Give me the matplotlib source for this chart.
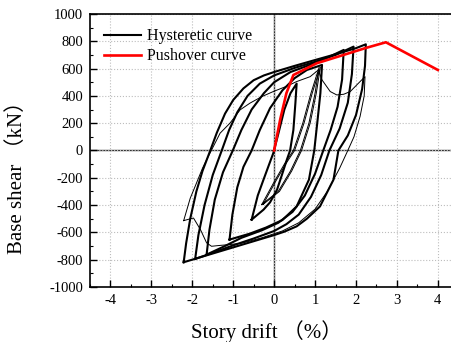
import matplotlib
matplotlib.use("Agg")
import matplotlib.pyplot as plt
from matplotlib.ticker import MultipleLocator

plt.rcParams["font.family"] = ["Liberation Serif", "Noto Sans CJK SC"]
plt.rcParams["axes.unicode_minus"] = False

# hysteresis loops (story drift %, base shear kN), thick lines
loop1_drift = [-0.55, -0.4, -0.26, -0.12, -0.02, 0.1, 0.25, 0.4, 0.55,
               0.52, 0.47, 0.39, 0.31, 0.2, 0.07, -0.1, -0.26, -0.55]
loop1_shear = [-507, -330, -214, -100, -19, 120, 300, 420, 490,
               350, 150, 0, -68, -170, -288, -380, -434, -507]

loop2_drift = [-1.09, -1.02, -0.9, -0.75, -0.55, -0.35, -0.1, 0.2, 0.5, 0.8, 1.17,
               1.13, 1.06, 0.98, 0.85, 0.55, 0.2, -0.2, -0.6, -1.09]
loop2_shear = [-653, -470, -270, -120, 0, 150, 310, 440, 530, 590, 627,
               420, 220, 0, -214, -410, -510, -565, -610, -653]

loop3_drift = [-1.65, -1.58, -1.45, -1.25, -1.01, -0.8, -0.55, -0.25, 0, 0.4, 0.9, 1.3, 1.7,
               1.66, 1.55, 1.38, 1.2, 1.0, 0.75, 0.45, 0.1, -0.3, -0.8, -1.2, -1.65]
loop3_shear = [-763, -580, -360, -160, 0, 150, 300, 420, 500, 575, 630, 680, 737,
               520, 320, 150, 0, -170, -330, -450, -530, -585, -640, -700, -763]

loop4_drift = [-1.93, -1.85, -1.7, -1.5, -1.28, -1.1, -0.9, -0.65, -0.35, 0, 0.5, 1.0, 1.5, 1.94,
               1.9, 1.8, 1.6, 1.35, 1.15, 0.9, 0.6, 0.3, 0, -0.5, -1.0, -1.5, -1.93]
loop4_shear = [-795, -620, -400, -180, 0, 150, 280, 400, 490, 550, 605, 650, 700, 761,
               560, 350, 160, 0, -180, -340, -470, -540, -590, -645, -695, -750, -795]

loop5_drift = [-2.21, -2.15, -2.05, -1.9, -1.75, -1.56, -1.4, -1.2, -1.0, -0.75, -0.5, -0.25,
               0, 0.5, 1.0, 1.5, 2.0, 2.24,
               2.22, 2.15, 2.0, 1.8, 1.57, 1.45, 1.12, 0.8, 0.55, 0.25, 0,
               -0.5, -1.0, -1.5, -2.0, -2.21]
loop5_shear = [-819, -680, -500, -300, -150, 0, 130, 270, 370, 455, 515, 550,
               575, 620, 663, 705, 750, 778,
               620, 450, 260, 110, 0, -214, -410, -500, -556, -595, -620,
               -665, -710, -755, -800, -819]

# thin lines: small narrow loop and the degraded last cycle
thin_loop_drift = [-0.3, 0, 0.25, 0.47, 0.7, 0.9, 1.1, 1.0, 0.85, 0.64, 0.4, 0.1, -0.3]
thin_loop_shear = [-395, -230, -100, 0, 200, 420, 610, 420, 200, 0, -150, -300, -395]

degraded_drift = [-2.21, -2.05, -1.93, -1.75, -1.61, -1.45, -1.32, -1.08, -0.83, -0.59, -0.3,
                  -0.02, 0.3, 0.55, 0.88, 1.08, 1.17, 1.37, 1.53, 1.7, 1.86, 2.05, 2.22,
                  2.2, 2.1, 1.95, 1.8, 1.6, 1.3, 1.0, 0.6, 0.2, -0.3, -0.8, -1.1, -1.3,
                  -1.53, -1.65, -1.8, -1.97, -2.1, -2.21]
degraded_shear = [-514, -350, -263, -130, -44, 50, 127, 200, 298, 347, 395,
                  432, 470, 505, 541, 590, 517, 432, 407, 412, 432, 490, 541,
                  400, 250, 100, 0, -130, -300, -430, -530, -590, -640, -680, -690, -695,
                  -702, -677, -580, -495, -505, -514]

# pushover curve
push_drift = [0, 0.15, 0.3, 0.47, 1.04, 2.26, 2.73, 4.0]
push_shear = [0, 230, 420, 553, 639, 753, 793, 590]

x_ticks = [-4, -3, -2, -1, 0, 1, 2, 3, 4]
y_ticks = [-1000, -800, -600, -400, -200, 0, 200, 400, 600, 800, 1000]


fig = plt.figure(figsize=(4.52, 3.42), dpi=100)
ax = fig.add_axes([0.199, 0.161, 0.815, 0.798])

ax.grid(True, which="major", linestyle=":", color="#bdbdbd", linewidth=0.8)
ax.axhline(0, color="#333333", linewidth=1.0, zorder=1)
ax.axvline(0, color="#333333", linewidth=1.0, zorder=1)

ax.plot(thin_loop_drift, thin_loop_shear, color="black", linewidth=0.7)
ax.plot([d + 0.03 for d in thin_loop_drift], thin_loop_shear, color="black", linewidth=0.7)
ax.plot(degraded_drift, degraded_shear, color="black", linewidth=0.7)

loops = [(loop1_drift, loop1_shear), (loop2_drift, loop2_shear), (loop3_drift, loop3_shear),
         (loop4_drift, loop4_shear), (loop5_drift, loop5_shear)]
for i, (d, s) in enumerate(loops):
    ax.plot(d, s, color="black", linewidth=1.5,
            label="Hysteretic curve" if i == 0 else None)

ax.plot(push_drift, push_shear, color="#ff0000", linewidth=1.9, label="Pushover curve")

ax.set_xlim(-4.5, 4.5)
ax.set_ylim(-1000, 1000)
ax.set_xticks(x_ticks)
ax.set_yticks(y_ticks)
ax.xaxis.set_minor_locator(MultipleLocator(0.5))
ax.yaxis.set_minor_locator(MultipleLocator(100))
ax.tick_params(which="major", direction="in", length=5, width=1, labelsize=10.5, pad=5)
ax.tick_params(which="minor", direction="in", length=2.5, width=0.8)
ax.tick_params(axis="x", which="both", top=False)
for side in ["left", "bottom", "top"]:
    ax.spines[side].set_linewidth(1.2)
ax.spines["right"].set_visible(False)

ax.set_xlabel("Story drift （%）", fontsize=15)
ax.set_ylabel("Base shear （kN）", fontsize=15)
ax.xaxis.set_label_coords(0.48, -0.12)
ax.yaxis.set_label_coords(-0.17, 0.42)

leg = ax.legend(loc="upper left", frameon=False, fontsize=11.5, handlelength=2.3,
                borderaxespad=0.5, labelspacing=0.25, handletextpad=0.4)

fig.savefig("out.png", dpi=100)
